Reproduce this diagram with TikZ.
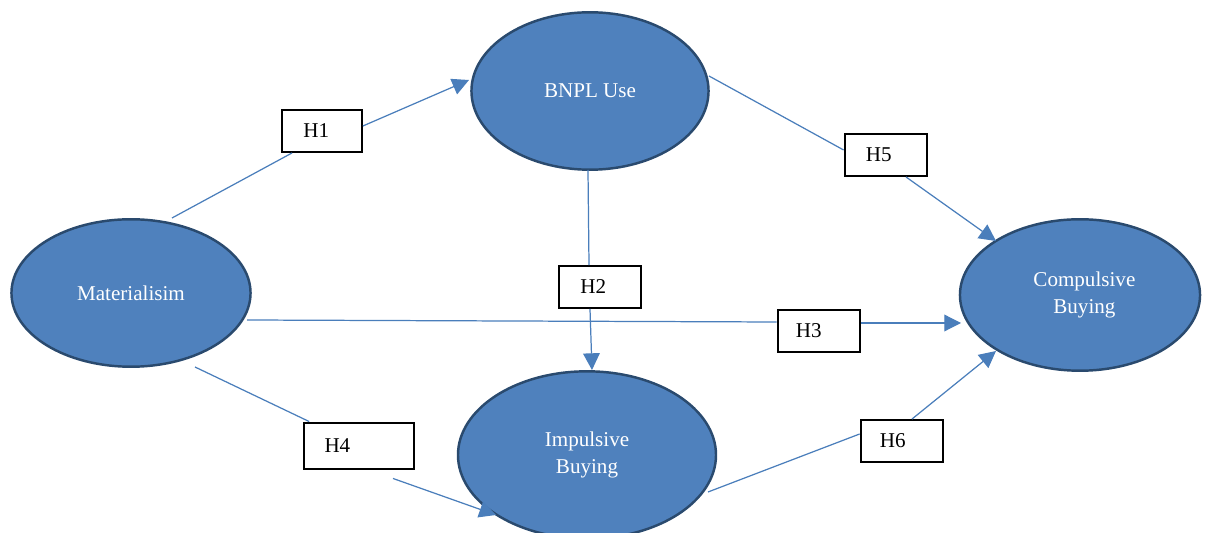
\documentclass[tikz,border=0pt]{standalone}
\usepackage{fontspec}
\setmainfont{Liberation Serif}
\usetikzlibrary{arrows.meta,calc,shapes.geometric}
\definecolor{efill}{HTML}{4F81BD}
\definecolor{eborder}{HTML}{2A4A6E}
\definecolor{lineblue}{HTML}{4A7EBB}
\tikzset{
  construct/.style={ellipse, draw=eborder, line width=1.4pt, fill=efill, text=white, align=center, font=\fontsize{12}{15.3}\selectfont, inner sep=0pt},
  hbox/.style={draw=black, line width=1.2pt, fill=white, minimum height=42*0.567pt, font=\fontsize{12}{14}\selectfont, inner sep=0pt},
  link/.style={draw=lineblue, line width=0.7pt},
  arrowlink/.style={link, -{Triangle[length=9.5pt,width=9.5pt]}, shorten >=0pt},
  hlabel/.style={anchor=west, font=\fontsize{12}{14}\selectfont, inner sep=0pt}
}
\begin{document}
\begin{tikzpicture}[x=0.02cm, y=-0.02cm]
\useasboundingbox (0,0) rectangle (1211,533);
\clip (0,0) rectangle (1211,533);
% ellipses
\node[construct, minimum width=238*0.567pt, minimum height=158*0.567pt] (bnpl) at (590,91) {BNPL Use};
\node[construct, minimum width=240*0.567pt, minimum height=148*0.567pt] (mat) at (131,293) {Materialisim};
\node[construct, minimum width=241*0.567pt, minimum height=152*0.567pt] (comp) at (1080,295) {\hspace*{5pt}Compulsive\\\hspace*{5pt}Buying};
\node[construct, minimum width=259*0.567pt, minimum height=168*0.567pt] (imp) at (587,455) {Impulsive\\Buying};
% box positions
\coordinate (c1) at (322,131);
\coordinate (c5) at (886,155);
\coordinate (c2) at (600,287);
\coordinate (c3) at (819,331);
\coordinate (c4) at (359,446);
\coordinate (c6) at (902,441);
% connector end points on ellipses
\coordinate (s1) at (172,218);
\coordinate (t1) at (469,80);
\coordinate (s5) at (709,76);
\coordinate (t5) at (996,241);
\coordinate (s2) at (588,170);
\coordinate (t2) at (592,370);
\coordinate (s3) at (247,320);
\coordinate (t3) at (961,323);
\coordinate (s4) at (195,367);
\coordinate (t4) at (496,515);
\coordinate (s6) at (708,492);
\coordinate (t6) at (996,351);
% boxes
\node[hbox, minimum width=80*0.567pt] (h1) at (c1) {};
\node[hbox, minimum width=83*0.567pt] (h5) at (c5) {};
\node[hbox, minimum width=82*0.567pt] (h2) at (c2) {};
\node[hbox, minimum width=83*0.567pt] (h3) at (c3) {};
\node[hbox, minimum width=110*0.567pt, minimum height=47*0.567pt] (h4) at (c4) {};
\node[hbox, minimum width=83*0.567pt] (h6) at (c6) {};
% connectors
\draw[link] (s1) -- ($(h1.south)+(-30,0)$);
\draw[arrowlink] ($(h1.east)+(0,-5)$) -- (t1);
\draw[link] (s5) -- ($(h5.west)+(0,-5)$);
\draw[arrowlink] ($(h5.south)+(20,0)$) -- (t5);
\draw[link] (s2) -- ($(h2.north)+(-11,0)$);
\draw[arrowlink] ($(h2.south)+(-10,0)$) -- (t2);
\draw[link] (s3) -- ($(h3.west)+(0,-9)$);
\draw[arrowlink] ($(h3.east)+(0,-8)$) -- (t3);
\draw[link] (s4) -- ($(h4.north west)+(6,0)$);
\draw[arrowlink] ($(h4.south)+(34,8)$) -- (t4);
\draw[link] (s6) -- ($(h6.west)+(0,-7)$);
\draw[arrowlink] ($(h6.north)+(10,0)$) -- (t6);
% labels
\node[hlabel] (l1) at ($(h1.west)+(22,0)$) {H1};
\node[hlabel] (l5) at ($(h5.west)+(22,0)$) {H5};
\node[hlabel] (l2) at ($(h2.west)+(22,0)$) {H2};
\node[hlabel] (l3) at ($(h3.west)+(19,0)$) {H3};
\node[hlabel] (l4) at ($(h4.west)+(21,0)$) {H4};
\node[hlabel] (l6) at ($(h6.west)+(20,0)$) {H6};
\end{tikzpicture}
\end{document}
